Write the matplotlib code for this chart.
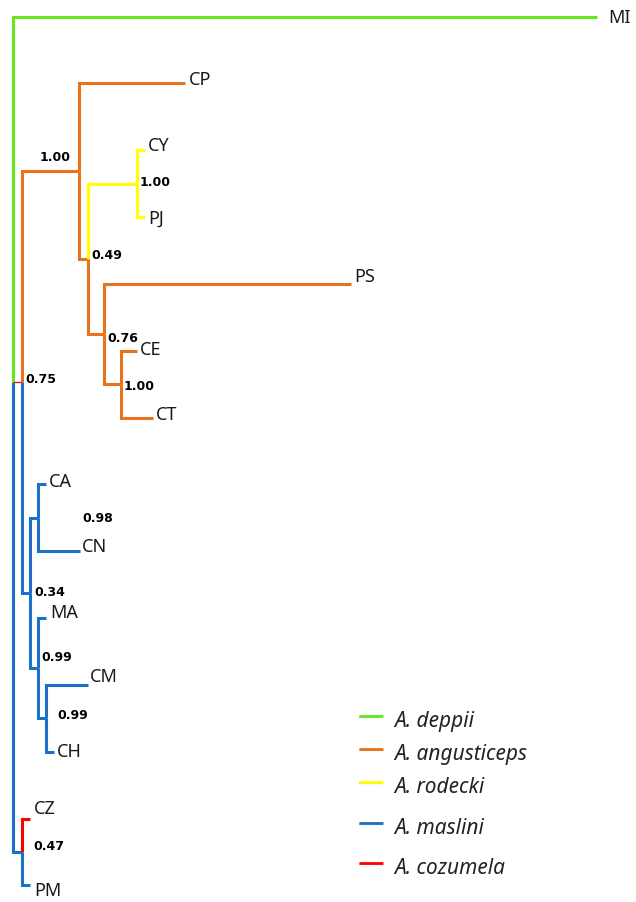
import matplotlib
matplotlib.use("Agg")
import matplotlib.pyplot as plt
from matplotlib.transforms import offset_copy
from matplotlib.lines import Line2D
import numpy as np

# ---------------- tree data ----------------
nodes = ["root", "MI", "A", "B", "CP", "C", "D", "CY", "PJ", "E", "PS", "F", "CE", "CT",
         "G", "H", "CA", "CN", "I", "MA", "J", "CM", "CH", "K", "CZ", "PM"]
parents = [None, "root", "root", "A", "B", "B", "C", "D", "D", "C", "E", "E", "F", "F",
           "A", "G", "H", "H", "G", "I", "I", "J", "J", "root", "K", "K"]
branch_lengths = [0.0, 0.584, 0.009, 0.057, 0.106, 0.009, 0.049, 0.008, 0.008, 0.016, 0.247,
                  0.017, 0.016, 0.032, 0.008, 0.008, 0.008, 0.042, 0.008, 0.008, 0.008, 0.042,
                  0.008, 0.009, 0.008, 0.008]
edge_species = [None, "A. deppii", "A. cozumela", "A. angusticeps", "A. angusticeps",
                "A. angusticeps", "A. rodecki", "A. rodecki", "A. rodecki", "A. angusticeps",
                "A. angusticeps", "A. angusticeps", "A. angusticeps", "A. angusticeps",
                "A. maslini", "A. maslini", "A. maslini", "A. maslini", "A. maslini",
                "A. maslini", "A. maslini", "A. maslini", "A. maslini", "A. maslini",
                "A. cozumela", "A. maslini"]

support_nodes = ["A", "B", "C", "D", "E", "F", "G", "H", "I", "J", "K"]
support_values = [0.75, 1.00, 0.49, 1.00, 0.76, 1.00, 0.34, 0.98, 0.99, 0.99, 0.47]

species = ["A. deppii", "A. angusticeps", "A. rodecki", "A. maslini", "A. cozumela"]
species_colors = ["#66E81E", "#E8731A", "#FFFF00", "#1C70C8", "#FF0000"]

# ---------------- layout / style ----------------
W, H = 636, 902
LW = 2.2
thin_edges = {"A": 0.9}
tip_nudge = {  # (dx px, dy px of text centre; down positive)
    "MI": (11, 0), "CP": (4, -5), "CY": (3, -6), "PJ": (3, 0), "PS": (3, -8),
    "CE": (3, -2), "CT": (3, -4), "CA": (3, -4), "CN": (2, -6), "MA": (4, -7),
    "CM": (2, -9), "CH": (3, -1), "CZ": (4, -11), "PM": (4, 4)}
support_nudge = {  # (dx, dy, ha)
    "A": (3, -4, "left"), "B": (-8, -15, "right"), "C": (3, -4, "left"),
    "D": (3, -2, "left"), "E": (3, 3, "left"), "F": (3, 1, "left"),
    "G": (4, -2, "left"), "H": (44, 0, "left"), "I": (3, -12, "left"),
    "J": (11, -4, "left"), "K": (11, -7, "left")}
legend_rows_px = [716, 749, 782, 823, 863]
LEG_SIZE = 15

# ---------------- compute coordinates ----------------
children = {n: [] for n in nodes}
for n, p in zip(nodes, parents):
    if p is not None:
        children[p].append(n)
blen = dict(zip(nodes, branch_lengths))

xpos, ypos = {}, {}
tip_counter = [0]


def place(n, x0):
    xpos[n] = x0 + blen[n]
    if not children[n]:
        ypos[n] = float(tip_counter[0])
        tip_counter[0] += 1
    else:
        for c in children[n]:
            place(c, xpos[n])
        ypos[n] = float(np.median([ypos[c] for c in children[n]]))


place("root", 0.0)

color_of = dict(zip(species, species_colors))

fig = plt.figure(figsize=(W / 100, H / 100), dpi=100)
ax = fig.add_axes([0, 0, 1, 1])
ax.set_xlim(-0.013, 0.623)
# tip rows: pixel = 16.6 + 66.83 * index
ax.set_ylim((H - 16.6) / 66.83, -16.6 / 66.83)
ax.axis("off")

for n, p, sp in zip(nodes, parents, edge_species):
    if p is None:
        continue
    px, py = xpos[p], ypos[p]
    cx, cy = xpos[n], ypos[n]
    ax.plot([px, px, cx], [py, cy, cy], color=color_of[sp],
            lw=thin_edges.get(n, LW), solid_joinstyle="miter",
            solid_capstyle="butt", zorder=2)

# tip labels
TIP_SIZE = 13
cap_half_tip = 0.714 * TIP_SIZE * 100 / 72 / 2
for n in nodes:
    if children[n]:
        continue
    dx, dy = tip_nudge[n]
    tr = offset_copy(ax.transData, fig=fig, x=dx, y=-(dy + cap_half_tip), units="dots")
    ax.text(xpos[n], ypos[n], n, transform=tr, ha="left", va="baseline",
            fontsize=TIP_SIZE, family="Noto Sans", color="#1a1a1a")

# posterior support labels
SUP_SIZE = 9
cap_half_sup = 0.729 * SUP_SIZE * 100 / 72 / 2
for n, v in zip(support_nodes, support_values):
    dx, dy, ha = support_nudge[n]
    tr = offset_copy(ax.transData, fig=fig, x=dx, y=-(dy + cap_half_sup), units="dots")
    ax.text(xpos[n], ypos[n], f"{v:.2f}", transform=tr, ha=ha, va="baseline",
            fontsize=SUP_SIZE, family="DejaVu Sans", fontweight="bold", color="black")

# legend
cap_half_leg = 0.714 * LEG_SIZE * 100 / 72 / 2
for sp, col, ry in zip(species, species_colors, legend_rows_px):
    fy = 1 - ry / H
    fig.add_artist(Line2D([359 / W, 383 / W], [fy - 1.2 / H, fy - 1.2 / H],
                          transform=fig.transFigure, color="#b0b0b0", lw=1.6,
                          solid_capstyle="butt", alpha=0.6))
    fig.add_artist(Line2D([359 / W, 383 / W], [fy, fy], transform=fig.transFigure,
                          color=col, lw=2.0, solid_capstyle="butt"))
    fig.text(394 / W, 1 - (ry + 4 + cap_half_leg) / H, sp, ha="left", va="baseline",
             fontsize=LEG_SIZE, family="Noto Sans", style="italic", color="#222222")

fig.savefig("out.png", dpi=100, facecolor="white")
